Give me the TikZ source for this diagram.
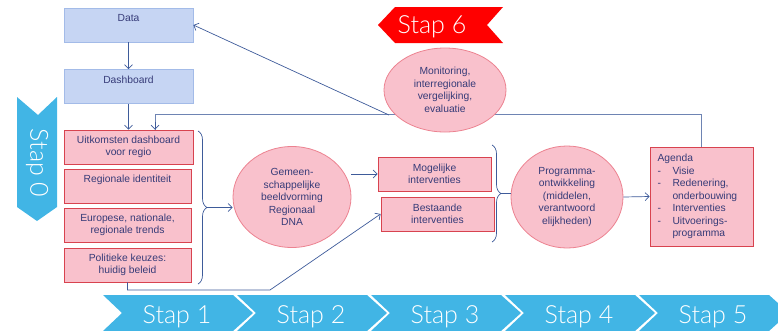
\documentclass[tikz,border=0pt]{standalone}
\usepackage{fontspec}
\setmainfont{Liberation Sans}
\newfontfamily\stapfont{Lato Light}
\usetikzlibrary{positioning, shapes.geometric, arrows.meta, decorations.pathreplacing}
\definecolor{dataBlue}{HTML}{C6D5F3}
\definecolor{dataEdge}{HTML}{A3BBE8}
\definecolor{rosePink}{HTML}{F9C1CC}
\definecolor{roseEdge}{HTML}{D8434F}
\definecolor{ovalEdge}{HTML}{EC8290}
\definecolor{inkNavy}{HTML}{363B78}
\definecolor{lineBlue}{HTML}{3E5B9A}
\definecolor{stapBlue}{HTML}{41B5E5}
\definecolor{stapRed}{HTML}{FF0000}

\begin{document}
\begin{tikzpicture}[x=1pt, y=-1pt, font=\fontsize{10.3}{12.5}\selectfont,
  databox/.style={draw=dataEdge, fill=dataBlue, text=inkNavy, line width=0.8pt,
    minimum width=129pt, minimum height=34pt, inner sep=2pt, align=center},
  rosebox/.style={draw=roseEdge, fill=rosePink, text=inkNavy, line width=0.8pt,
    minimum height=34pt, inner sep=2pt, align=center},
  toptext/.style={text depth=14pt},
  oval/.style={ellipse, draw=ovalEdge, fill=rosePink, text=inkNavy,
    line width=0.8pt, inner sep=0pt, align=center},
  arr/.style={-{Straight Barb[length=4pt, width=8pt]}, draw=lineBlue, line width=0.7pt},
  link/.style={draw=lineBlue, line width=0.7pt},
  fback/.style={draw=lineBlue!75, line width=0.9pt},
  brace/.style={decorate, decoration={brace, amplitude=9pt}, draw=lineBlue, line width=0.7pt},
  stapmark/.style={text=white, font=\stapfont\fontsize{25}{25}\selectfont, inner sep=0pt}]

\useasboundingbox (0,0) rectangle (778,330);

% linker kolom
\node[databox, toptext] (data) at (128.5,25) {Data};
\node[databox, toptext] (dash) at (128.5,86.5) {Dashboard};
\node[rosebox, minimum width=129pt] (uitk) at (128.5,147) {Uitkomsten dashboard\\voor regio};
\node[rosebox, toptext, minimum width=127pt] (ident) at (127.5,186) {Regionale identiteit};
\node[rosebox, minimum width=127pt] (trend) at (127.5,225) {Europese, nationale,\\regionale trends};
\node[rosebox, minimum width=127pt] (beleid) at (127.5,265) {Politieke keuzes:\\huidig beleid};

% midden en rechts
\node[oval, minimum width=118pt, minimum height=101pt] (dna) at (292,197)
  {Gemeen-\\schappelijke\\beeldvorming\\Regionaal\\DNA};
\node[rosebox, minimum width=113pt] (mog) at (434.5,174) {Mogelijke\\interventies};
\node[rosebox, minimum width=113pt] (best) at (437.5,214) {Bestaande\\interventies};
\node[oval, minimum width=112pt, minimum height=102pt] (prog) at (567,197)
  {Programma-\\ontwikkeling\\(middelen,\\verantwoord\\elijkheden)};
\node[rosebox, minimum width=103pt, minimum height=99pt, text width=88pt,
  align=left, inner xsep=7.5pt] (agenda) at (701.5,196.5)
  {Agenda\\
   \makebox[15pt][l]{-}Visie\\
   \makebox[15pt][l]{-}Redenering,\\
   \hspace*{15pt}onderbouwing\\
   \makebox[15pt][l]{-}Interventies\\
   \makebox[15pt][l]{-}Uitvoerings-\\
   \hspace*{15pt}programma};

% verbindingen
\draw[arr] (data) -- (dash);
\draw[arr] (dash) -- (uitk);
\draw[fback] (agenda.north) -- ++(0,-32) -| ([xshift=26.5pt]uitk.north);
\draw[arr] ([xshift=26.5pt, yshift=8pt]uitk.north) -- ([xshift=26.5pt]uitk.north);
\coordinate (split) at (389,115);
\draw[arr] (split) -- (data.east);

\node[oval, minimum width=122pt, minimum height=84pt] (mon) at (445,90)
  {Monitoring,\\interregionale\\vergelijking,\\evaluatie};

\draw[brace] (198,131) -- (198,284);
\coordinate (lbrace) at (207,207.5);
\draw[arr] (lbrace) -- (lbrace -| dna.west);

\coordinate (bend) at (270,290);
\draw[arr] (beleid.south) |- (bend) -- (best.west);
\draw[arr] (dna.east |- mog.west) -- (mog.west);

\draw[brace] (492,145) -- (492,242);
\coordinate (rbrace) at (501,193.5);
\draw[link] (rbrace) -- (rbrace -| prog.west);
\draw[arr] (prog.east) -- (agenda.west);

% stappen
\fill[stapRed] (378,25) -- (395,7) -- (503,7) -- (487,25) -- (503,43) -- (395,43) -- cycle;
\node[stapmark, anchor=base] (stap6) at (432,33) {Stap 6};

\fill[stapBlue] (17,97) -- (38,115) -- (57,97) -- (57,207) -- (37,221) -- (17,207) -- cycle;
\node[stapmark, rotate=-90] (stap0) at (37,163) {Stap 0};

\foreach \i in {1,...,5}{
  \pgfmathsetmacro{\xo}{103+134*(\i-1)}
  \fill[stapBlue] (\xo,295) -- ++(130,0) -- ++(20,18) -- ++(-20,18)
    -- ++(-130,0) -- ++(19,-18) -- cycle;
  \node[stapmark, anchor=base] (stap\i) at (\xo+74,323) {Stap \i};
}

\end{tikzpicture}
\end{document}
